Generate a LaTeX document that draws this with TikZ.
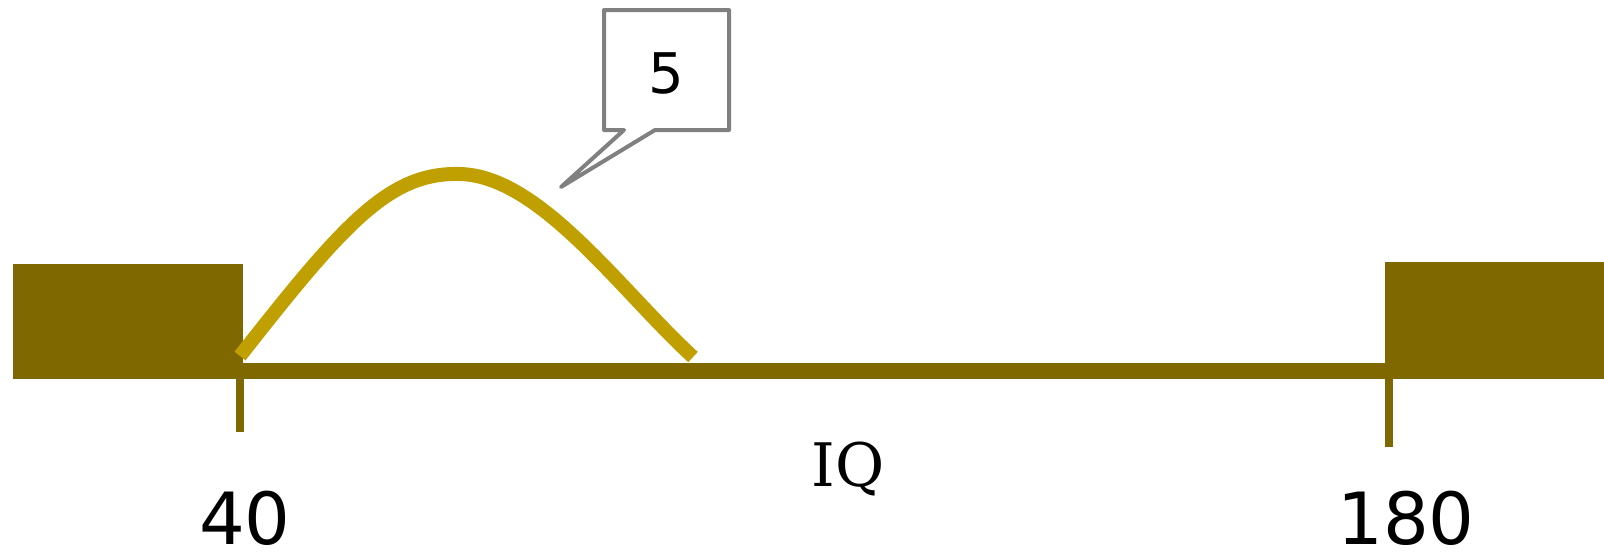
\documentclass[tikz,border=0pt]{standalone}
\usepackage{fontspec}
\setmainfont{DejaVu Sans}
\newfontfamily\iqfont{DejaVu Serif}
\definecolor{darkolive}{RGB}{128,104,0}
\definecolor{curvegold}{RGB}{192,160,0}
\definecolor{calloutgray}{RGB}{128,128,128}
\begin{document}
\begin{tikzpicture}[x=0.5pt,y=-0.5pt,
  bar/.style={fill=darkolive,draw=none},
  tick/.style={draw=darkolive,line width=4pt},
  curve/.style={draw=curvegold,line width=7pt},
  callout/.style={draw=calloutgray,line width=2pt,line join=round,line cap=round,fill=white},
  numlabel/.style={font=\fontsize{36}{38}\selectfont,text=black,inner sep=0pt},
  iqlabel/.style={font=\iqfont\fontsize{30}{32}\selectfont,text=black,inner sep=0pt},
  fivelabel/.style={font=\fontsize{28}{30}\selectfont,text=black,inner sep=0pt}]
\useasboundingbox (0,0) rectangle (1604,554);
% left block and bar
\fill[bar] (13,264) rectangle (243,379);
\fill[bar] (243,363) rectangle (1387,379);
\fill[bar] (1385,262) rectangle (1604,379);
% ticks
\coordinate (lt1) at (240,379);
\coordinate (lt2) at (240,432);
\coordinate (rt1) at (1389,379);
\coordinate (rt2) at (1389,447);
\draw[tick] (lt1) -- (lt2);
\draw[tick] (rt1) -- (rt2);
% curve
\coordinate (c0) at (240,356);
\coordinate (cp) at (460,174);
\coordinate (c1) at (693,357);
\draw[curve] (c0) .. controls (345,222) and (390,172) .. (cp)
  .. controls (540,176) and (620,290) .. (c1);
% callout
\draw[callout] (604,10) -- (729,10) -- (729,130) -- (655,130) -- (561,187) -- (624,130) -- (604,130) -- cycle;
\node[fivelabel] (five) at (666,73) {5};
% labels
\node[numlabel] (n40) at (245,518) {40};
\node[numlabel] (n180) at (1406,518) {180};
\node[iqlabel] (iq) at (848,469) {IQ};
\end{tikzpicture}
\end{document}
